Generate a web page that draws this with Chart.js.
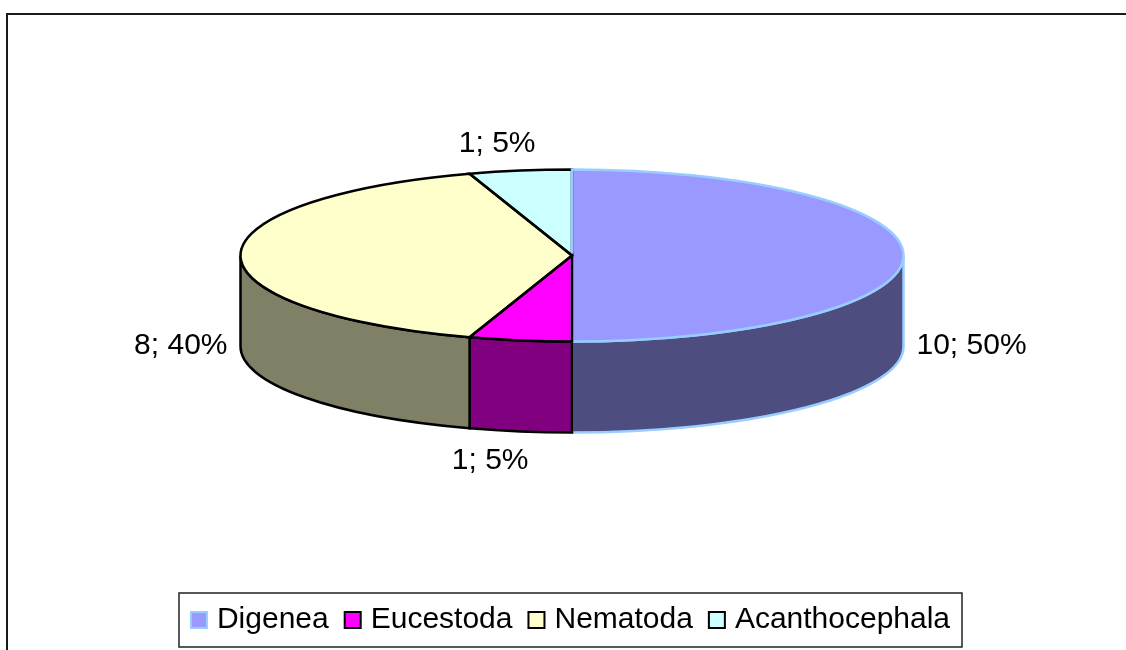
<!DOCTYPE html>
<html>
<head>
<meta charset="utf-8">
<title>Parasite groups</title>
<script src="https://cdn.jsdelivr.net/npm/chart.js@4/dist/chart.umd.min.js"></script>
<style>
  html, body { margin: 0; padding: 0; background: #fff; overflow: hidden; }
  canvas { display: block; }
</style>
</head>
<body>
<canvas id="pieChart" width="1126" height="650"></canvas>
<script>
// Data
const categories = ["Digenea", "Eucestoda", "Nematoda", "Acanthocephala"];
const counts = [10, 1, 8, 1];

// Colors for each group
const topColors = ["#9999ff", "#ff00ff", "#ffffcc", "#ccffff"];
const wallColors = ["#4d4d80", "#800080", "#808066", "#668080"];
const edgeColors = ["#99ccff", "#000000", "#000000", "#000000"];

// Shape of the tilted pie on the page
const pie = { x: 572, y: 255.5, rx: 331.5, ry: 86, depth: 91 };
const FONT = '"Liberation Sans", Arial, sans-serif';
const EDGE_WIDTH = 2.5;

// Where each value label sits relative to the rim at the middle of its slice
const labelShift = [
  { dx: 13, dy: 90, align: "left" },
  { dx: -30, dy: 120, align: "center" },
  { dx: -13, dy: 90, align: "right" },
  { dx: -23, dy: -27, align: "center" },
];

// Top face strokes go on in this order so the shared edges overlap as in the picture
const strokeOrder = [3, 0, 1, 2];

function slicePath(ctx, el) {
  ctx.beginPath();
  ctx.moveTo(pie.x, pie.y);
  ctx.ellipse(pie.x, pie.y, pie.rx, pie.ry, 0, el.startAngle, el.endAngle);
  ctx.closePath();
}

// Side wall of the pie, only the part facing the viewer
function drawWalls(ctx, arcs) {
  arcs.forEach((el, i) => {
    const a = Math.max(el.startAngle, 0);
    const b = Math.min(el.endAngle, Math.PI);
    if (b <= a) return;
    ctx.beginPath();
    ctx.ellipse(pie.x, pie.y, pie.rx, pie.ry, 0, a, b);
    ctx.ellipse(pie.x, pie.y + pie.depth, pie.rx, pie.ry, 0, b, a, true);
    ctx.closePath();
    ctx.fillStyle = wallColors[i];
    ctx.fill();
    ctx.strokeStyle = edgeColors[i];
    ctx.lineWidth = EDGE_WIDTH;
    ctx.stroke();
  });
}

const tiltedPie = {
  id: "tiltedPie",
  beforeDraw(chart) {
    // outer chart frame, runs off the right and bottom of the page
    const ctx = chart.ctx;
    ctx.save();
    ctx.strokeStyle = "#1a1a1a";
    ctx.lineWidth = 2;
    ctx.strokeRect(7, 14, 1300, 900);
    ctx.restore();
  },
  beforeDatasetsDraw(chart) {
    const ctx = chart.ctx;
    const arcs = chart.getDatasetMeta(0).data;
    drawWalls(ctx, arcs);
    // squash the round pie into the ellipse
    const el = arcs[0];
    ctx.save();
    ctx.translate(pie.x, pie.y);
    ctx.scale(pie.rx / el.outerRadius, pie.ry / el.outerRadius);
    ctx.translate(-el.x, -el.y);
  },
  afterDatasetsDraw(chart) {
    const ctx = chart.ctx;
    ctx.restore();
    const arcs = chart.getDatasetMeta(0).data;
    const total = counts.reduce((a, b) => a + b, 0);

    strokeOrder.forEach((i) => {
      slicePath(ctx, arcs[i]);
      ctx.strokeStyle = edgeColors[i];
      ctx.lineWidth = EDGE_WIDTH;
      ctx.stroke();
    });

    // value labels
    ctx.save();
    ctx.fillStyle = "#000";
    ctx.font = "30px " + FONT;
    ctx.textBaseline = "middle";
    arcs.forEach((el, i) => {
      const mid = (el.startAngle + el.endAngle) / 2;
      const s = labelShift[i];
      ctx.textAlign = s.align;
      ctx.fillText(
        counts[i] + "; " + Math.round((counts[i] / total) * 100) + "%",
        pie.x + pie.rx * Math.cos(mid) + s.dx,
        pie.y + pie.ry * Math.sin(mid) + s.dy
      );
    });
    ctx.restore();
  },
  afterDraw(chart) {
    // legend frame and color boxes
    const ctx = chart.ctx;
    ctx.save();
    ctx.strokeStyle = "#222";
    ctx.lineWidth = 1.5;
    ctx.strokeRect(179, 593, 783, 54);
    chart.legend.legendHitBoxes.forEach((box, i) => {
      ctx.fillStyle = topColors[i];
      ctx.strokeStyle = edgeColors[i];
      ctx.lineWidth = 2;
      ctx.fillRect(box.left + 1, 612, 16, 16);
      ctx.strokeRect(box.left + 1, 612, 16, 16);
    });
    ctx.restore();
  },
};

new Chart(document.getElementById("pieChart"), {
  type: "pie",
  data: {
    labels: categories,
    datasets: [{
      data: counts,
      backgroundColor: topColors,
      borderWidth: 0,
    }],
  },
  options: {
    responsive: false,
    animation: false,
    layout: { padding: { left: 14, right: 0, top: 20, bottom: 5 } },
    plugins: {
      tooltip: { enabled: false },
      legend: {
        position: "bottom",
        labels: {
          color: "#000",
          font: { family: FONT, size: 30 },
          boxWidth: 12,
          boxHeight: 12,
          padding: 15,
          generateLabels(chart) {
            // boxes are drawn by the plugin, they sit closer to the text
            return Chart.overrides.pie.plugins.legend.labels.generateLabels(chart).map((item) => ({
              ...item,
              fillStyle: "transparent",
              strokeStyle: "transparent",
              lineWidth: 0,
            }));
          },
        },
      },
    },
  },
  plugins: [tiltedPie],
});
</script>
</body>
</html>
